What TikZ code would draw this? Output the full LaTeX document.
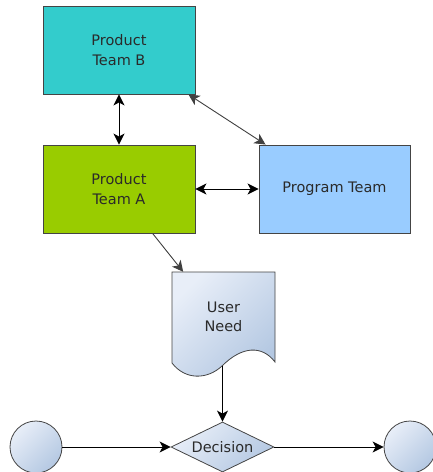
\documentclass[tikz,border=0pt]{standalone}
\usepackage{fontspec}
\setmainfont{DejaVu Sans}
\usetikzlibrary{arrows.meta,shapes.geometric,calc}
\definecolor{teamb}{HTML}{33CCCC}
\definecolor{teama}{HTML}{99CC00}
\definecolor{progteam}{HTML}{99CCFF}
\definecolor{paleblue}{HTML}{E8EEF8}
\definecolor{deepblue}{HTML}{B4C8E2}
\definecolor{ink}{HTML}{2A2A2A}
\definecolor{edge}{HTML}{444444}
\tikzset{
  x=1pt, y=-1pt,
  bodyfont/.style={font=\fontsize{14.5}{19.5}\selectfont},
  teambox/.style={draw=edge, line width=0.9pt, minimum width=152pt, minimum height=88pt,
    inner sep=0pt, align=center, text=ink, bodyfont},
  flowfill/.style={draw=edge, line width=0.8pt, top color=paleblue, bottom color=deepblue, shading angle=45},
  link/.style={draw=black, line width=0.9pt},
  head/.style={Stealth[length=11pt,width=11pt,inset=3pt]},
  twoway/.style={link, {Stealth[length=11pt,width=11pt,inset=3pt]}-{Stealth[length=11pt,width=11pt,inset=3pt]}},
  oneway/.style={link, -{Stealth[length=11pt,width=11pt,inset=3pt]}},
  labeltext/.style={text=ink, align=center, bodyfont},
}
\begin{document}
\begin{tikzpicture}
\useasboundingbox (0,0) rectangle (432,472);

% team boxes
\node[teambox, fill=teamb] (teamB) at (119,50) {Product\\Team B};
\node[teambox, fill=teama] (teamA) at (119,189) {Product\\Team A};
\node[teambox, fill=progteam, minimum width=151pt] (prog) at (334.5,189) {Program Team};

% user need document with wavy bottom
\shade[flowfill] (172,272) -- (275,272) -- (275,362)
  .. controls (262,345) and (242,346) .. (222,366)
  .. controls (207,380) and (185,380) .. (172,363) -- cycle;
\node[labeltext, minimum width=103pt, minimum height=90pt, inner sep=0pt] (need) at (223.5,317) {User\\Need};
\coordinate (needout) at (222.5,366);

% decision and terminals
\node[diamond, flowfill, minimum width=103pt, minimum height=50pt, inner sep=0pt, aspect=2,
  text=ink, bodyfont] (decide) at (222.5,447) {Decision};
\node[circle, flowfill, minimum size=52pt, inner sep=0pt] (start) at (36,447) {};
\node[circle, flowfill, minimum size=52pt, inner sep=0pt] (finish) at (410,447) {};

% connectors
\draw[twoway] (teamB.south) -- (teamA.north);
\draw[twoway, draw=black!75] ($(teamB.south east)+(-7,0)$) -- ($(prog.north west)+(7,0)$);
\draw[twoway] (teamA.east) -- (prog.west);
\draw[oneway, draw=black!75] ($(teamA.south west)!0.72!(teamA.south east)$) -- ($(need.north west)!0.11!(need.north east)$);
\draw[oneway] (needout) -- (decide.north);
\draw[oneway] (start.east) -- (decide.west);
\draw[oneway] (decide.east) -- (finish.west);
\end{tikzpicture}
\end{document}
